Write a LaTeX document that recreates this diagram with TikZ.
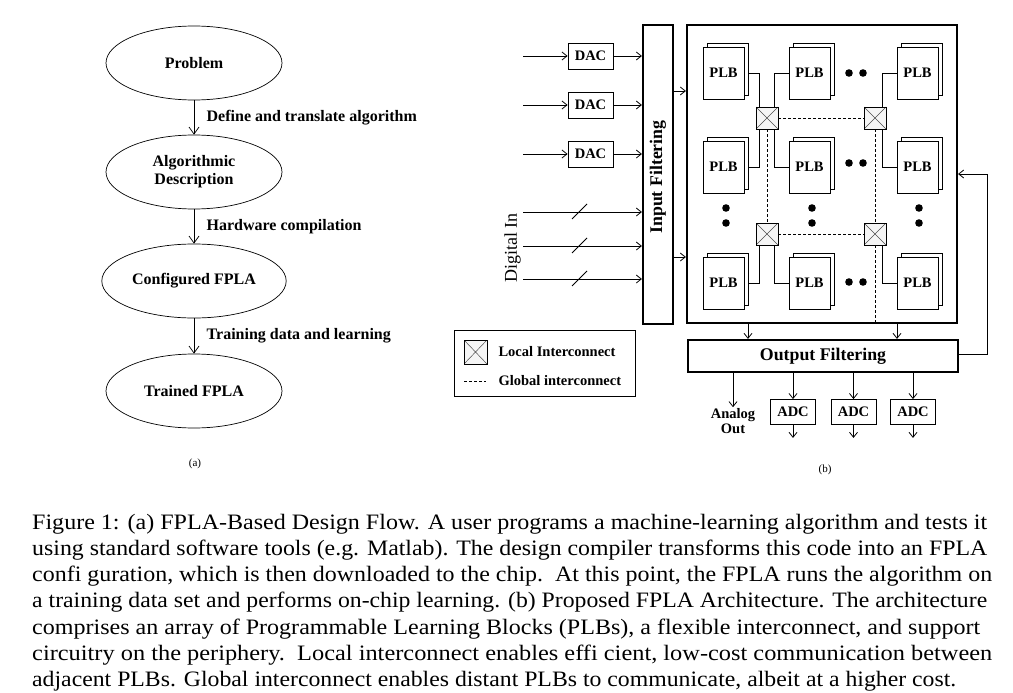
\documentclass[tikz,border=0pt]{standalone}
\usepackage{graphicx}
\usepackage{fontspec}
\setmainfont{Liberation Serif}
\usetikzlibrary{arrows.meta,shapes.geometric,shadows}

\newcommand{\capline}[2]{\resizebox{#1pt}{\height}{#2}}

\begin{document}
\begin{tikzpicture}[x=1pt,y=-1pt,
  flow/.style={ellipse,draw,line width=0.7pt,minimum width=176pt,minimum height=74pt,
    align=center,font=\fontsize{16}{18}\selectfont\bfseries},
  steplbl/.style={right=9pt,font=\fontsize{16}{18}\selectfont\bfseries},
  lbl/.style={font=\fontsize{14.5}{15}\selectfont\bfseries},
  box/.style={draw,line width=0.8pt,inner sep=0pt,font=\fontsize{14.5}{15}\selectfont\bfseries},
  thickbox/.style={draw,line width=2.2pt,inner sep=0pt,font=\fontsize{17.8}{19}\selectfont\bfseries},
  plb/.style={box,fill=white,minimum width=41pt,minimum height=52pt,
    copy shadow={shadow xshift=4.5pt,shadow yshift=3.5pt,fill=white,draw=black}},
  sw/.style={draw,line width=0.8pt,fill=gray!8,minimum width=22pt,minimum height=22pt,inner sep=0pt,
    path picture={\draw[gray!60!black,line width=0.5pt]
      (path picture bounding box.north west) -- (path picture bounding box.south east)
      (path picture bounding box.south west) -- (path picture bounding box.north east);}},
  wire/.style={line width=0.8pt},
  glob/.style={line width=0.8pt,dash pattern=on 3pt off 2pt},
  arr/.style={line width=0.8pt,-{Straight Barb[length=5pt,width=8pt]}},
  bigarr/.style={line width=0.7pt,-{Straight Barb[length=7pt,width=10pt]}}]
\useasboundingbox (0,0) rectangle (1013,693);

% (a) design flow
\node[flow] (prob) at (194,63) {Problem};
\node[flow] (alg) at (194,172) {Algorithmic\\Description};
\node[flow] (conf) at (194,281) {Configured FPLA};
\node[flow] (trn) at (194,391) {Trained FPLA};
\draw[bigarr] (prob) -- (alg) node[midway,steplbl] {Define and translate algorithm};
\draw[bigarr] (alg) -- (conf) node[midway,steplbl] {Hardware compilation};
\draw[bigarr] (conf) -- (trn) node[midway,steplbl] {Training data and learning};
\node[font=\fontsize{11}{12}\selectfont] (capa) at (195,464) {(a)};

% (b) architecture: inputs
\node[thickbox,minimum width=30pt,minimum height=299pt] (inf) at (658,174.5) {};
\node[thickbox,draw=none,rotate=90] at (658,177) {Input Filtering};
\node[thickbox,minimum width=270pt,minimum height=298pt] (main) at (822,174) {};
\foreach \i/\y in {1/56,2/105,3/154} {
  \node[box,minimum width=45pt,minimum height=26pt] (d\i) at (590.5,\y) {DAC};
  \coordinate (ai\i) at (523,\y);
  \draw[arr] (ai\i) -- (d\i);
  \draw[arr] (d\i) -- (d\i -| inf.west);
}
\foreach \i/\y in {1/212,2/246,3/279} {
  \coordinate (gi\i) at (523,\y);
  \draw[arr] (gi\i) -- (gi\i -| inf.west);
  \draw[wire] (572,\y+7) -- (587,\y-8);
}
\node[font=\fontsize{18}{19}\selectfont,rotate=90] (digin) at (512.5,248) {Digital In};
\coordinate (r1) at (0,91); \coordinate (r2) at (0,257);
\draw[arr] (inf.east |- r1) -- (main.west |- r1);
\draw[arr] (inf.east |- r2) -- (main.west |- r2);

% PLB array
\foreach \c/\x in {1/723.5,2/809.5,3/917.5}
  \foreach \r/\y in {1/73,2/167,3/283}
    \node[plb] (p\r\c) at (\x,\y) {PLB};
\node[sw] (s1) at (767,118) {};
\node[sw] (s2) at (875,118) {};
\node[sw] (s3) at (767,234) {};
\node[sw] (s4) at (875,234) {};
\draw[wire] ([xshift=4.5pt]p11.east) -| ([xshift=-8pt]s1.north);
\draw[wire] (p12.west) -| ([xshift=7pt]s1.north);
\draw[wire] ([xshift=-8pt]s1.south) |- ([xshift=4.5pt]p21.east);
\draw[wire] ([xshift=7pt]s1.south) |- (p22.west);
\draw[wire] (p13.west) -| ([xshift=7pt]s2.north);
\draw[wire] ([xshift=7pt]s2.south) |- (p23.west);
\draw[wire] ([xshift=-8pt]s3.south) |- ([xshift=4.5pt]p31.east);
\draw[wire] ([xshift=7pt]s3.south) |- (p32.west);
\draw[wire] ([xshift=7pt]s4.south) |- (p33.west);
\draw[glob] (s1) -- (s2);
\draw[glob] (s3) -- (s4);
\draw[glob] (s1) -- (s3);
\draw[glob] (s2) -- (s4);
\draw[glob] (s4.south) -- (s4.south |- main.south);
\foreach \y in {73,163,282} {
  \fill (849,\y) circle (3.8pt);
  \fill (863,\y) circle (3.8pt);
}
\foreach \x in {726,812,919} {
  \fill (\x,208) circle (3.8pt);
  \fill (\x,223) circle (3.8pt);
}

% outputs
\node[thickbox,minimum width=270pt,minimum height=32pt] (outf) at (823,356) {Output Filtering};
\coordinate (m1) at (748,0); \coordinate (m2) at (897,0);
\draw[arr] (main.south -| m1) -- (outf.north -| m1);
\draw[arr] (main.south -| m2) -- (outf.north -| m2);
\coordinate (fb) at (987,174);
\draw[arr] ([yshift=2pt]outf.east) -| (fb) -- (fb -| main.east);
\node[lbl,align=center,inner sep=1pt] (ao) at (733,421) {Analog\\Out};
\draw[arr] (outf.south -| ao) -- (ao.north);
\foreach \i/\x in {1/793,2/853.5,3/913} {
  \node[box,minimum width=45pt,minimum height=25pt] (a\i) at (\x,412) {ADC};
  \draw[arr] (outf.south -| a\i) -- (a\i);
  \draw[arr] (a\i.south) -- ++(0,13);
}
\node[font=\fontsize{11}{12}\selectfont] (capb) at (825,470) {(b)};

% legend
\node[draw,line width=0.8pt,minimum width=181pt,minimum height=65.5pt] (leg) at (544.5,363.25) {};
\node[sw,minimum width=23pt,minimum height=24pt] (li) at (475.5,352) {};
\node[lbl,anchor=west] (lt1) at (495,352) {Local Interconnect};
\coordinate (lg) at (464,381);
\draw[glob] (lg) -- ++(22,0);
\node[lbl,anchor=west] (lt2) at (495,381) {Global interconnect};

% caption
\begin{scope}[every node/.style={anchor=base west,inner sep=0pt,font=\fontsize{22}{26}\selectfont}]
\node (c1) at (32,529) {\capline{955}{Figure 1: (a) FPLA-Based Design Flow. A user programs a machine-learning algorithm and tests it}};
\node (c2) at (32,555.3) {\capline{955}{using standard software tools (e.g. Matlab). The design compiler transforms this code into an FPLA}};
\node (c3) at (32,581.6) {\capline{960}{confi guration, which is then downloaded to the chip.\ \ At this point, the FPLA runs the algorithm on}};
\node (c4) at (32,607.9) {\capline{955}{a training data set and performs on-chip learning. (b) Proposed FPLA Architecture. The architecture}};
\node (c5) at (32,634.2) {\capline{948}{comprises an array of Programmable Learning Blocks (PLBs), a flexible interconnect, and support}};
\node (c6) at (32,660.5) {\capline{960}{circuitry on the periphery.\ \ Local interconnect enables effi cient, low-cost communication between}};
\node (c7) at (32,686.8) {\capline{924}{adjacent PLBs. Global interconnect enables distant PLBs to communicate, albeit at a higher cost.}};
\end{scope}
\end{tikzpicture}
\end{document}
